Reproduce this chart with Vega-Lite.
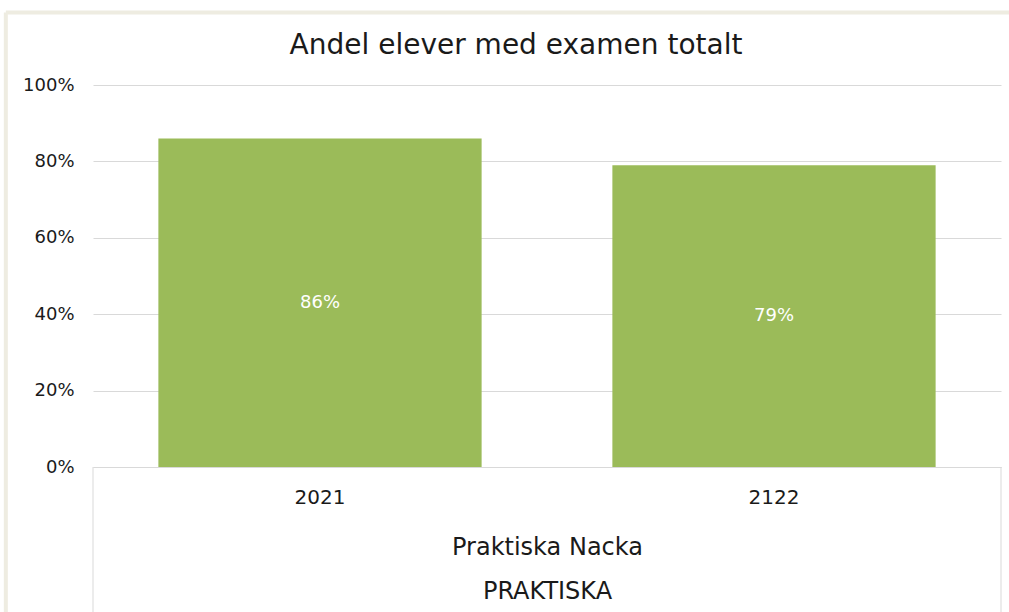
{
  "$schema": "https://vega.github.io/schema/vega-lite/v6.json",
  "width": 908,
  "height": 382,
  "autosize": {"type": "none"},
  "padding": {"left": 93, "top": 85, "right": 8, "bottom": 145},
  "background": "white",
  "title": {
    "text": "Andel elever med examen totalt",
    "font": "DejaVu Sans",
    "fontSize": 28,
    "fontWeight": "normal",
    "color": "#1a1a1a",
    "anchor": "middle",
    "frame": "group",
    "baseline": "alphabetic",
    "dx": -31,
    "offset": -72
  },
  "config": {"view": {"stroke": null}, "font": "DejaVu Sans"},
  "data": {
    "values": [
      {"year": "2021", "share": 0.86},
      {"year": "2122", "share": 0.79}
    ]
  },
  "layer": [
    {
      "mark": {"type": "bar", "color": "#9BBB59"},
      "encoding": {
        "x": {
          "field": "year",
          "type": "nominal",
          "sort": null,
          "scale": {"paddingInner": 0.288, "paddingOuter": 0.144},
          "axis": {
            "title": ["Praktiska Nacka", "PRAKTISKA"],
            "labelAngle": 0,
            "labelFont": "DejaVu Sans",
            "labelFontSize": 20,
            "labelColor": "#1a1a1a",
            "labelPadding": 20,
            "ticks": false,
            "tickSize": 0,
            "domainColor": "#D9D9D9",
            "domainWidth": 1,
            "grid": false,
            "titleFont": "DejaVu Sans",
            "titleFontSize": 24,
            "titleFontWeight": "normal",
            "titleColor": "#1a1a1a",
            "titleLineHeight": 44,
            "titlePadding": 28
          }
        },
        "y": {
          "field": "share",
          "type": "quantitative",
          "scale": {"domain": [0, 1], "nice": false},
          "axis": {
            "format": ".0%",
            "values": [0, 0.2, 0.4, 0.6, 0.8, 1],
            "title": null,
            "domain": false,
            "ticks": false,
            "tickSize": 0,
            "labelPadding": 19,
            "labelFont": "DejaVu Sans",
            "labelFontSize": 18,
            "labelColor": "#1a1a1a",
            "gridColor": "#D9D9D9",
            "gridWidth": 1
          }
        }
      }
    },
    {
      "mark": {"type": "text", "color": "white", "fontSize": 18, "font": "DejaVu Sans", "baseline": "middle", "align": "center"},
      "encoding": {
        "x": {
          "field": "year",
          "type": "nominal",
          "sort": null,
          "scale": {"paddingInner": 0.288, "paddingOuter": 0.144},
          "axis": null
        },
        "y": {
          "field": "share",
          "type": "quantitative",
          "scale": {"domain": [0, 2], "nice": false},
          "axis": null
        },
        "text": {"field": "share", "type": "quantitative", "format": ".0%"}
      }
    },
    {
      "data": {"values": [{}]},
      "mark": {"type": "rule", "color": "#D9D9D9", "strokeWidth": 1},
      "encoding": {
        "x": {"datum": 0, "type": "quantitative", "scale": {"domain": [0, 1], "nice": false}, "axis": null},
        "y": {"datum": 0, "type": "quantitative", "scale": {"domain": [0, 1], "nice": false}, "axis": null},
        "y2": {"datum": -0.38}
      }
    },
    {
      "data": {"values": [{}]},
      "mark": {"type": "rule", "color": "#D9D9D9", "strokeWidth": 1},
      "encoding": {
        "x": {"datum": 1, "type": "quantitative", "scale": {"domain": [0, 1], "nice": false}, "axis": null},
        "y": {"datum": 0, "type": "quantitative", "scale": {"domain": [0, 1], "nice": false}, "axis": null},
        "y2": {"datum": -0.38}
      }
    },
    {
      "data": {"values": [{}]},
      "mark": {"type": "rule", "color": "#EEECE1", "strokeWidth": 4},
      "encoding": {
        "x": {"datum": -0.096, "type": "quantitative", "scale": {"domain": [0, 1], "nice": false, "zero": false}, "axis": null},
        "x2": {"datum": 1.02},
        "y": {"datum": 1.19, "type": "quantitative", "scale": {"domain": [0, 1], "nice": false, "zero": false}, "axis": null}
      }
    },
    {
      "data": {"values": [{}]},
      "mark": {"type": "rule", "color": "#EEECE1", "strokeWidth": 4},
      "encoding": {
        "x": {"datum": -0.096, "type": "quantitative", "scale": {"domain": [0, 1], "nice": false, "zero": false}, "axis": null},
        "y": {"datum": 1.19, "type": "quantitative", "scale": {"domain": [0, 1], "nice": false, "zero": false}, "axis": null},
        "y2": {"datum": -0.4}
      }
    }
  ],
  "resolve": {"scale": {"x": "independent", "y": "independent"}}
}
